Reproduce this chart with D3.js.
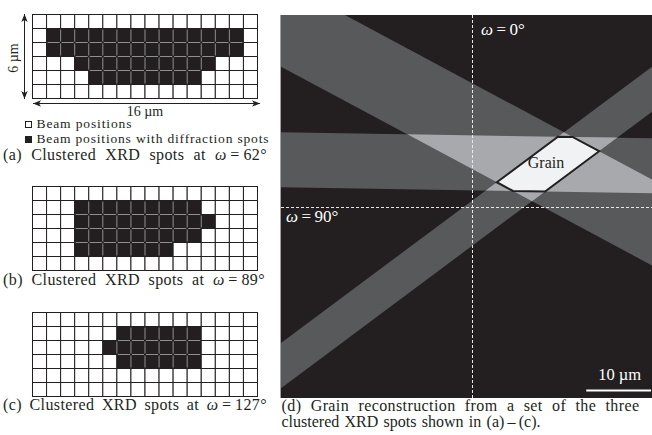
<!DOCTYPE html>
<html>
<head>
<meta charset="utf-8">
<script src="https://cdn.jsdelivr.net/npm/d3@7"></script>
<style>
body { margin: 0; background: #fff; }
svg { display: block; font-family: 'Liberation Serif', 'Times New Roman', serif; }
</style>
</head>
<body>
<svg width="652" height="435"></svg>
<script>
var gridCols = 16
var gridRows = 6
var gridLabels = ['16 \u00b5m', '6 \u00b5m']
// beam positions with diffraction spots, one run per row: [row, first col, last col]
var spots62 = [[1, 1, 14], [2, 1, 14], [3, 3, 12], [4, 4, 11]]
var spots89 = [[1, 3, 11], [2, 3, 12], [3, 3, 11], [4, 3, 9]]
var spots127 = [[1, 6, 11], [2, 5, 11], [3, 6, 11]]
var omegas = [62, 89, 127]
var legendLabels = ['Beam positions', 'Beam positions with diffraction spots']
// back-projected bands in the sample plane (um): direction angle (deg), offset range
var bandAngle = [-28.2, -0.9, 36.7]
var bandFrom = [5.2, 2.6, -4.8]
var bandTo = [16.9, 11.1, 0.8]
var viewX = [-29.5, 27.8]
var viewY = [-29.5, 29.7]
var scaleBarUm = 10
var guideOmegas = [0, 90]

var dark = '#231f20'
var svg = d3.select('svg')
var defs = svg.append('defs')
defs.append('marker')
    .attr('id', 'arrow')
    .attr('viewBox', '0 0 10 10')
    .attr('refX', 10)
    .attr('refY', 5)
    .attr('markerWidth', 8)
    .attr('markerHeight', 8)
    .attr('markerUnits', 'userSpaceOnUse')
    .attr('orient', 'auto-start-reverse')
    .append('path')
    .attr('d', 'M0,1 L10,5 L0,9 L2.5,5 z')
    .attr('fill', dark)

var omegaText = function(g, x, y, parts, size, color) {
    var t = g.append('text')
        .attr('x', x)
        .attr('y', y)
        .attr('font-size', size)
        .attr('fill', color)
    parts.forEach(function(p) {
        t.append('tspan').attr('font-style', p[1] ? 'italic' : null).text(p[0])
    })
    return t
}

// spread the word gaps so a caption line fills its width
var justify = function(t, width) {
    var n = (t.text().match(/ /g) || []).length
    var w = t.node().getComputedTextLength()
    if (n) t.style('word-spacing', ((width - w) / n) + 'px')
}

var drawGrid = function(top, spots) {
    var x = d3.scaleLinear().domain([0, gridCols]).range([32.5, 257.5])
    var y = d3.scaleLinear().domain([0, gridRows]).range([top + 0.5, top + 84.5])
    var filled = {}
    spots.forEach(function(s) {
        for (var c = s[1]; c <= s[2]; c++) filled[s[0] + '_' + c] = true
    })
    var on = function(r, c) { return filled[r + '_' + c] === true }
    var cells = d3.cross(d3.range(gridRows), d3.range(gridCols))
    var g = svg.append('g')
    g.selectAll('rect')
        .data(cells)
        .enter()
        .append('rect')
        .attr('x', (d) => x(d[1]))
        .attr('y', (d) => y(d[0]))
        .attr('width', x(1) - x(0))
        .attr('height', y(1) - y(0))
        .attr('fill', (d) => on(d[0], d[1]) ? dark : '#fff')
        .attr('stroke', dark)
        .attr('stroke-width', 1)
    // lighter grid lines inside the filled area
    var inner = []
    cells.forEach(function(d) {
        if (!on(d[0], d[1])) return
        if (on(d[0], d[1] + 1)) inner.push([x(d[1] + 1), y(d[0]) + 1, x(d[1] + 1), y(d[0] + 1) - 1])
        if (on(d[0] + 1, d[1])) inner.push([x(d[1]) + 1, y(d[0] + 1), x(d[1] + 1) - 1, y(d[0] + 1)])
    })
    g.selectAll('line')
        .data(inner)
        .enter()
        .append('line')
        .attr('x1', (d) => d[0])
        .attr('y1', (d) => d[1])
        .attr('x2', (d) => d[2])
        .attr('y2', (d) => d[3])
        .attr('stroke', '#8f8f8f')
        .attr('stroke-width', 1)
    return g
}

drawGrid(14, spots62)
drawGrid(186, spots89)
drawGrid(312, spots127)

// dimension arrows of grid (a)
svg.append('line')
    .attr('x1', 24.5).attr('y1', 14).attr('x2', 24.5).attr('y2', 99)
    .attr('stroke', dark)
    .attr('marker-start', 'url(#arrow)')
    .attr('marker-end', 'url(#arrow)')
svg.append('line')
    .attr('x1', 33).attr('y1', 103.5).attr('x2', 260).attr('y2', 103.5)
    .attr('stroke', dark)
    .attr('marker-start', 'url(#arrow)')
    .attr('marker-end', 'url(#arrow)')
svg.append('text')
    .attr('x', 145).attr('y', 116)
    .attr('text-anchor', 'middle')
    .attr('font-size', 14)
    .attr('fill', dark)
    .text(gridLabels[0])
svg.append('text')
    .attr('transform', 'translate(17.5,58) rotate(-90)')
    .attr('text-anchor', 'middle')
    .attr('font-size', 14)
    .attr('fill', dark)
    .text(gridLabels[1])

// legend
var legendW = [95, 232]
var legend = svg.append('g')
legend.selectAll('rect')
    .data(legendLabels)
    .enter()
    .append('rect')
    .attr('x', 25.5)
    .attr('y', (d, i) => 121.5 + i * 15)
    .attr('width', 6)
    .attr('height', 6)
    .attr('fill', (d, i) => i ? dark : '#fff')
    .attr('stroke', dark)
legend.selectAll('text')
    .data(legendLabels)
    .enter()
    .append('text')
    .attr('x', 36.5)
    .attr('y', (d, i) => 127.5 + i * 15)
    .attr('font-size', 13.5)
    .attr('fill', dark)
    .attr('textLength', (d, i) => legendW[i])
    .attr('lengthAdjust', 'spacing')
    .text((d) => d)

// captions
var capY = [159.8, 284.5, 410]
var capW = [264, 262, 264]
omegas.forEach(function(w, i) {
    var t = omegaText(svg, 3, capY[i], [
        ['(' + 'abc'[i] + ') Clustered XRD spots at ', false],
        ['\u03c9', true],
        ['\u2009=\u2009' + w + '\u00b0', false]
    ], 16, dark)
        .style('letter-spacing', '0.4px')
    justify(t, capW[i])
})
var capD1 = svg.append('text')
    .attr('x', 281.5).attr('y', 411)
    .attr('font-size', 16)
    .attr('fill', dark)
    .style('letter-spacing', '0.4px')
    .text('(d) Grain reconstruction from a set of the three')
justify(capD1, 358)
var capD2 = svg.append('text')
    .attr('x', 281.5).attr('y', 427)
    .attr('font-size', 16)
    .attr('fill', dark)
    .text('clustered XRD spots shown in (a)\u2009\u2013\u2009(c).')
justify(capD2, 259)

// (d) reconstruction panel
var xUm = d3.scaleLinear().domain(viewX).range([281, 652])
var yUm = d3.scaleLinear().domain(viewY).range([398, 15])
var frame = [[viewX[0], viewY[0]], [viewX[1], viewY[0]], [viewX[1], viewY[1]], [viewX[0], viewY[1]]]

var cut = function(poly, nx, ny, d, s) {
    var out = []
    for (var i = 0; i < poly.length; i++) {
        var a = poly[i]
        var b = poly[(i + 1) % poly.length]
        var fa = s * (nx * a[0] + ny * a[1] - d)
        var fb = s * (nx * b[0] + ny * b[1] - d)
        if (fa >= 0) out.push(a)
        if (fa * fb < 0) {
            var t = fa / (fa - fb)
            out.push([a[0] + t * (b[0] - a[0]), a[1] + t * (b[1] - a[1])])
        }
    }
    return out
}
var clipBand = function(poly, i) {
    var a = bandAngle[i] * Math.PI / 180
    var nx = -Math.sin(a)
    var ny = Math.cos(a)
    return cut(cut(poly, nx, ny, bandFrom[i], 1), nx, ny, bandTo[i], -1)
}
var combos = [[0], [1], [2], [0, 1], [0, 2], [1, 2], [0, 1, 2]]
var shade = ['#58595b', '#a7a9ac', '#f1f2f3']
var toPath = d3.line().x((p) => xUm(p[0])).y((p) => yUm(p[1]))

var panel = svg.append('g')
panel.append('rect')
    .attr('x', xUm(viewX[0]))
    .attr('y', yUm(viewY[1]))
    .attr('width', xUm(viewX[1]) - xUm(viewX[0]))
    .attr('height', yUm(viewY[0]) - yUm(viewY[1]))
    .attr('fill', dark)
panel.append('line')
    .attr('x1', 280.5).attr('y1', 15).attr('x2', 280.5).attr('y2', 398)
    .attr('stroke', '#a0a0a0')

panel.selectAll('path.band')
    .data(combos)
    .enter()
    .append('path')
    .attr('class', 'band')
    .attr('d', function(c) {
        var poly = c.reduce((p, i) => clipBand(p, i), frame)
        return poly.length ? toPath(poly) + 'Z' : null
    })
    .attr('fill', (c) => shade[c.length - 1])
    .attr('stroke', (c) => c.length === 3 ? dark : 'none')
    .attr('stroke-width', 2)
    .attr('stroke-linejoin', 'miter')

panel.append('text')
    .attr('x', 546).attr('y', 168)
    .attr('text-anchor', 'middle')
    .attr('font-size', 16)
    .attr('fill', dark)
    .text('Grain')

// beam directions at omega = 0 and 90
panel.append('line')
    .attr('x1', Math.round(xUm(0)) + 0.5).attr('x2', Math.round(xUm(0)) + 0.5)
    .attr('y1', yUm(viewY[1])).attr('y2', yUm(viewY[0]))
    .attr('stroke', '#e8e8e8')
    .attr('stroke-dasharray', '3,2')
panel.append('line')
    .attr('y1', Math.round(yUm(0)) + 0.5).attr('y2', Math.round(yUm(0)) + 0.5)
    .attr('x1', xUm(viewX[0])).attr('x2', xUm(viewX[1]))
    .attr('stroke', '#e8e8e8')
    .attr('stroke-dasharray', '3,2')
omegaText(panel, xUm(0) + 9, 35, [['\u03c9', true], ['\u2009=\u2009' + guideOmegas[0] + '\u00b0', false]], 17, '#fff')
omegaText(panel, xUm(viewX[0]) + 5, 222, [['\u03c9', true], ['\u2009=\u2009' + guideOmegas[1] + '\u00b0', false]], 17, '#fff')

// scale bar
var barEnd = xUm(viewX[1]) - 1
var barLen = xUm(scaleBarUm) - xUm(0)
panel.append('line')
    .attr('x1', barEnd - barLen).attr('x2', barEnd)
    .attr('y1', 390.5).attr('y2', 390.5)
    .attr('stroke', '#fff')
    .attr('stroke-width', 2)
panel.append('text')
    .attr('x', barEnd - barLen / 2 + 1).attr('y', 380)
    .attr('text-anchor', 'middle')
    .attr('font-size', 16.5)
    .attr('fill', '#fff')
    .text(scaleBarUm + ' \u00b5m')
</script>
</body>
</html>
